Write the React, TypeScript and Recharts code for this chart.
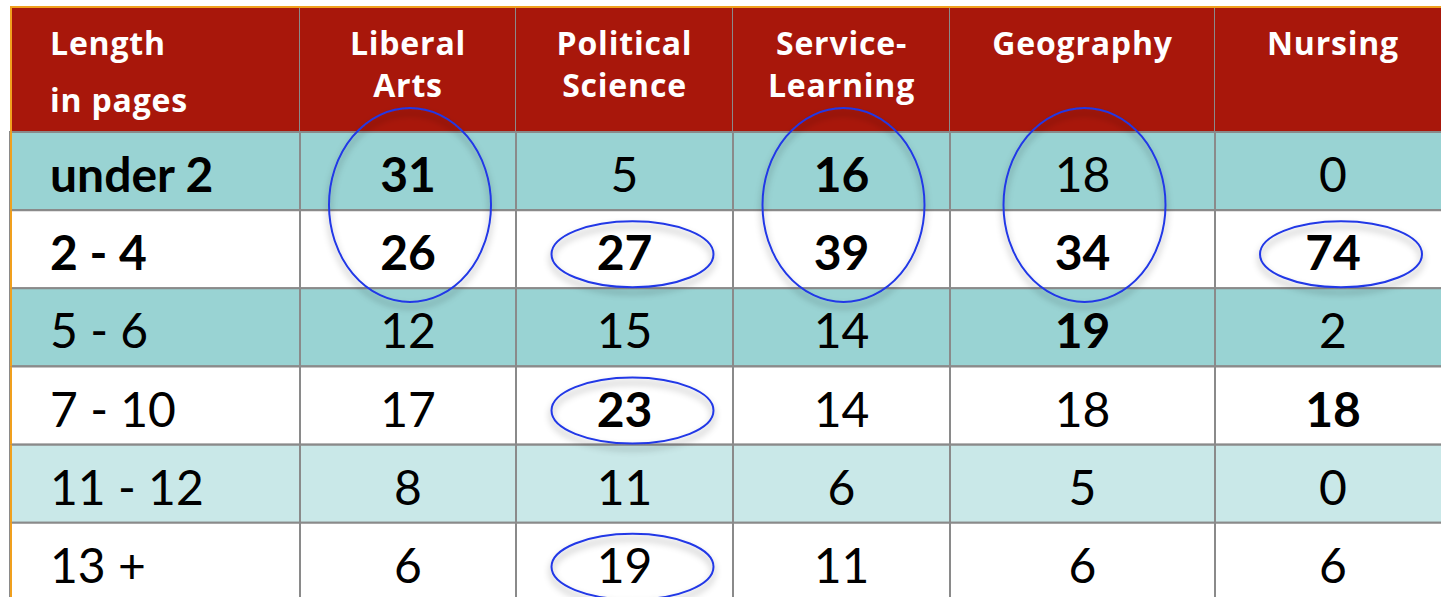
import React from 'react';
import { Bar, BarChart, Cell, LabelList, XAxis, YAxis } from 'recharts';

const headerLines = [['Length', 'in pages'], ['Liberal', 'Arts'], ['Political', 'Science'], ['Service-', 'Learning'], ['Geography'], ['Nursing']];
const rowLabels = ['under 2', '2 - 4', '5 - 6', '7 - 10', '11 - 12', '13 +'];

const liberalArts = [31, 26, 12, 17, 8, 6];
const politicalScience = [5, 27, 15, 23, 11, 19];
const serviceLearning = [16, 39, 14, 14, 6, 11];
const geography = [18, 34, 19, 18, 5, 6];
const nursing = [0, 74, 2, 18, 0, 6];

const series = [liberalArts, politicalScience, serviceLearning, geography, nursing];

// bold cells as [column, row]; column 0 holds the row labels
const boldCells = [[0, 0], [0, 1], [1, 0], [1, 1], [2, 1], [2, 3], [3, 0], [3, 1], [4, 1], [4, 2], [5, 1], [5, 3]];
// hand-drawn rings as [column, first row, rows spanned]
const rings = [[1, 0, 2], [3, 0, 2], [4, 0, 2], [2, 1, 1], [5, 1, 1], [2, 3, 1], [2, 5, 1]];

// layout / style
const COL_WIDTHS = [290, 216, 217, 217, 265, 236];
const TOTAL = COL_WIDTHS.reduce((a, b) => a + b, 0);
const COL_CENTERS = COL_WIDTHS.map((w, i) => COL_WIDTHS.slice(0, i).reduce((a, b) => a + b, 0) + w / 2);
const TOP = 8;
const LEFT = 10;
const HEADER_H = 124;
const ROW_H = 78.2;
const CHART_H = Math.round(TOP + HEADER_H + ROW_H * rowLabels.length);
const RED = '#A8170B';
const GRID = '#8A8A8A';
const ORANGE = '#F0A01E';
const RING = '#2138E6';
const ROW_FILLS = ['#99D3D3', '#FFFFFF', '#99D3D3', '#FFFFFF', '#C9E8E8', '#FFFFFF'];
const FONT = 'Lato, "Open Sans", sans-serif';
const HEAD_FONT = '"Open Sans", Lato, sans-serif';

const tableRows = rowLabels.map((row) => {
  const r: Record<string, any> = { row };
  COL_WIDTHS.forEach((w, c) => (r[`c${c}`] = w));
  return r;
});

const isBold = (c: number, r: number) => boldCells.some(([bc, br]) => bc === c && br === r);

const HeaderTick = (props: any) => {
  const { x, payload } = props;
  let idx = typeof props.index === 'number' ? props.index : -1;
  if (idx < 0) idx = COL_CENTERS.indexOf(payload?.value);
  const w = COL_WIDTHS[idx];
  const left = x - w / 2;
  const lines = headerLines[idx] || [];
  const first = idx === 0;
  return (
    <g>
      <rect x={left} y={TOP} width={w} height={HEADER_H} fill={RED} />
      <line x1={left + w} x2={left + w} y1={TOP} y2={TOP + HEADER_H} stroke={GRID} strokeWidth={2} />
      <line x1={left} x2={left + w} y1={TOP + HEADER_H} y2={TOP + HEADER_H} stroke={GRID} strokeWidth={2} />
      <line x1={left} x2={left + w} y1={TOP - 1} y2={TOP - 1} stroke={ORANGE} strokeWidth={2} />
      {first && <line x1={left + 1} x2={left + 1} y1={TOP - 2} y2={TOP + HEADER_H} stroke={ORANGE} strokeWidth={2} />}
      {lines.map((t, k) => (
        <text
          key={k}
          x={first ? left + 40 : x}
          y={TOP + 47 + k * (first ? 57 : 42)}
          textAnchor={first ? 'start' : 'middle'}
          fill="#FFFFFF"
          fontFamily={HEAD_FONT}
          fontWeight={700}
          fontSize={32}
          letterSpacing={0.8}
        >
          {t}
        </text>
      ))}
    </g>
  );
};

const makeCellContent = (col: number) => (props: any) => {
  const vb = props.viewBox || {};
  const x = props.x ?? vb.x;
  const y = props.y ?? vb.y;
  const width = props.width ?? vb.width;
  const height = props.height ?? vb.height;
  const r = rowLabels.indexOf(props.value);
  if (r < 0) return null;
  const text = col === 0 ? rowLabels[r] : String(series[col - 1][r]);
  const cx = x + width / 2;
  const myRings = rings.filter(([rc, rr]) => rc === col && rr === r);
  return (
    <g>
      {col === 0 && <line x1={x + 1} x2={x + 1} y1={y} y2={y + height} stroke={ORANGE} strokeWidth={2} />}
      <text
        x={col === 0 ? x + 40 : cx}
        y={y + height / 2 + 21}
        textAnchor={col === 0 ? 'start' : 'middle'}
        fill="#000000"
        fontFamily={FONT}
        fontWeight={isBold(col, r) ? 700 : 400}
        fontSize={48}
      >
        {text}
      </text>
      {myRings.map(([, , span], k) => {
        const big = span > 1;
        return (
          <ellipse
            key={k}
            cx={cx + (big ? 2 : 8)}
            cy={big ? y + (span * height) / 2 - 5 : y + height / 2 + 5}
            rx={81}
            ry={big ? 97 : 33}
            fill="none"
            stroke={RING}
            strokeWidth={2}
            filter="url(#ringShadow)"
          />
        );
      })}
    </g>
  );
};

export default function App() {
  return (
    <div style={{ position: 'absolute', left: 0, top: 0, width: 1441, height: 597, overflow: 'hidden', background: '#fff' }}>
      <svg width={0} height={0} style={{ position: 'absolute' }}>
        <defs>
          <filter id="ringShadow" x="-20%" y="-20%" width="140%" height="160%">
            <feDropShadow dx="0" dy="5" stdDeviation="3.5" floodColor="#000" floodOpacity="0.4" />
          </filter>
        </defs>
      </svg>
      <BarChart
        width={LEFT + TOTAL}
        height={CHART_H}
        data={tableRows}
        layout="vertical"
        barCategoryGap={0}
        margin={{ top: TOP, left: LEFT, right: 0, bottom: 0 }}
      >
        <XAxis
          type="number"
          orientation="top"
          domain={[0, TOTAL]}
          ticks={COL_CENTERS}
          interval={0}
          height={HEADER_H}
          tickLine={false}
          axisLine={false}
          tick={(p: any) => <HeaderTick {...p} />}
        />
        <YAxis type="category" dataKey="row" hide />
        {COL_WIDTHS.map((_, c) => (
          <Bar key={c} dataKey={`c${c}`} stackId="t" isAnimationActive={false} stroke={GRID} strokeWidth={2}>
            {tableRows.map((_, r) => (
              <Cell key={r} fill={ROW_FILLS[r]} />
            ))}
            <LabelList dataKey="row" content={makeCellContent(c)} />
          </Bar>
        ))}
      </BarChart>
    </div>
  );
}
